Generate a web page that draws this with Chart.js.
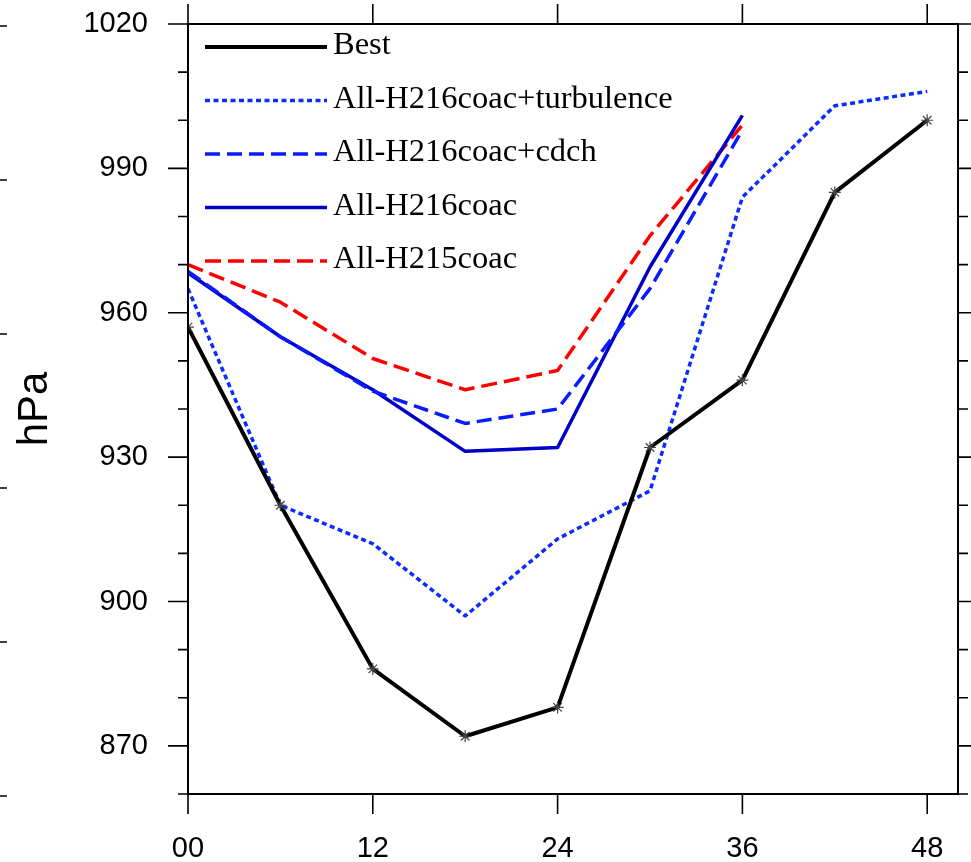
<!DOCTYPE html>
<html>
<head>
<meta charset="utf-8">
<script src="https://cdn.jsdelivr.net/npm/chart.js@4/dist/chart.umd.min.js"></script>
<style>
  html, body { margin: 0; padding: 0; background: #fff; }
  #wrap { width: 971px; height: 862px; }
</style>
</head>
<body>
<div id="wrap"><canvas id="c" width="971" height="862"></canvas></div>
<script>
// ---- data ----
const hours = [0, 6, 12, 18, 24, 30, 36, 42, 48];
const seriesNames = ['Best', 'All-H216coac+turbulence', 'All-H216coac+cdch', 'All-H216coac', 'All-H215coac'];
const bestVals = [957, 920, 886, 872, 878, 932, 946, 985, 1000];
const turbVals = [965, 920, 912, 897, 913, 923, 984, 1003, 1006];
const cdchVals = [968.6, 955, 943.7, 937, 940, 965, 998];
const h216Vals = [968.3, 955, 944, 931.2, 932, 969.5, 1001];
const h215Vals = [970, 962.2, 950.5, 944, 948, 976, 999];
const xTickVals = [0, 12, 24, 36, 48];
const yTickVals = [870, 900, 930, 960, 990, 1020];
const yMinorStep = 10;

function pts(vals) { return vals.map((v, i) => ({ x: hours[i], y: v })); }

const frameAndTicks = {
  id: 'frameAndTicks',
  beforeDraw(chart) {
    const ctx = chart.ctx;
    ctx.save();
    ctx.fillStyle = '#fff';
    ctx.fillRect(0, 0, chart.width, chart.height);
    ctx.restore();
  },
  afterDraw(chart) {
    const ctx = chart.ctx, a = chart.chartArea;
    const xs = chart.scales.x, ys = chart.scales.y;
    ctx.save();
    ctx.strokeStyle = '#000';
    ctx.lineWidth = 1.6;
    ctx.beginPath();
    // y ticks (major + minor), left and right, outward
    for (let v = ys.min; v <= ys.max + 1e-6; v += yMinorStep) {
      const y = ys.getPixelForValue(v);
      const major = yTickVals.includes(v);
      const len = major ? 20 : 10;
      ctx.moveTo(a.left - len, y); ctx.lineTo(a.left, y);
      ctx.moveTo(a.right, y); ctx.lineTo(a.right + len, y);
    }
    // x ticks, top and bottom, outward
    xTickVals.forEach(v => {
      const x = xs.getPixelForValue(v);
      ctx.moveTo(x, a.top - 20); ctx.lineTo(x, a.top);
      ctx.moveTo(x, a.bottom); ctx.lineTo(x, a.bottom + 20);
    });
    ctx.stroke();
    // remnants of a neighbouring panel's ticks at the far left edge
    ctx.beginPath();
    [26, 180, 334, 488, 642, 796].forEach(y => { ctx.moveTo(0, y); ctx.lineTo(7, y); });
    ctx.stroke();
    // frame
    ctx.lineWidth = 2;
    ctx.strokeRect(a.left, a.top, a.right - a.left, a.bottom - a.top);
    // legend
    ctx.font = '32.5px "Liberation Serif", "Times New Roman", serif';
    ctx.fillStyle = '#000';
    ctx.textBaseline = 'alphabetic';
    chart.data.datasets.forEach((ds, i) => {
      const ly = a.top + 23 + i * 53.5;
      ctx.save();
      ctx.strokeStyle = ds.borderColor;
      ctx.lineWidth = ds.borderWidth;
      ctx.setLineDash(ds.borderDash || []);
      ctx.beginPath();
      ctx.moveTo(a.left + 17, ly);
      ctx.lineTo(a.left + 139, ly);
      ctx.stroke();
      ctx.restore();
      ctx.fillText(ds.label, a.left + 145, ly + 7);
    });
    ctx.restore();
  }
};

const tickFont = { family: '"Liberation Sans", Arial, Helvetica, sans-serif', size: 29 };

new Chart(document.getElementById('c'), {
  type: 'line',
  data: {
    datasets: [
      { label: seriesNames[0], data: pts(bestVals), borderColor: '#000000', borderWidth: 4,
        pointStyle: 'star', pointRadius: 6, pointBorderColor: '#444', pointBorderWidth: 1.2, pointHoverRadius: 6 },
      { label: seriesNames[1], data: pts(turbVals), borderColor: '#0a2cff', borderWidth: 3.5,
        borderDash: [5, 3.5], pointRadius: 0 },
      { label: seriesNames[2], data: pts(cdchVals), borderColor: '#0a1cff', borderWidth: 3.5,
        borderDash: [15, 7], pointRadius: 0 },
      { label: seriesNames[3], data: pts(h216Vals), borderColor: '#0000c8', borderWidth: 3.5,
        pointRadius: 0 },
      { label: seriesNames[4], data: pts(h215Vals), borderColor: '#ff0000', borderWidth: 3.5,
        borderDash: [16, 7], pointRadius: 0 }
    ]
  },
  options: {
    responsive: false,
    animation: false,
    layout: { padding: { top: 24, right: 13, left: 0, bottom: 0 } },
    plugins: { legend: { display: false }, tooltip: { enabled: false } },
    elements: { line: { tension: 0, borderCapStyle: 'butt', borderJoinStyle: 'round' } },
    scales: {
      x: {
        type: 'linear', min: 0, max: 50,
        afterBuildTicks: s => { s.ticks = xTickVals.map(v => ({ value: v })); },
        afterFit: s => { s.height = 68; s.paddingLeft = 0; s.paddingRight = 0; },
        grid: { display: false }, border: { display: false },
        ticks: { font: tickFont, color: '#000', padding: 30, maxRotation: 0,
          callback: v => String(v).padStart(2, '0') }
      },
      y: {
        type: 'linear', min: 860, max: 1020,
        afterBuildTicks: s => { s.ticks = yTickVals.map(v => ({ value: v })); },
        afterFit: s => { s.width = 188; s.paddingTop = 0; s.paddingBottom = 0; },
        grid: { display: false }, border: { display: false },
        ticks: { font: tickFont, color: '#000', padding: 32, callback: v => String(v) },
        title: { display: true, text: 'hPa', color: '#000',
          font: { family: '"Liberation Sans", Arial, Helvetica, sans-serif', size: 42 },
          padding: { top: 10, bottom: 0 } }
      }
    }
  },
  plugins: [frameAndTicks]
});
</script>
</body>
</html>
